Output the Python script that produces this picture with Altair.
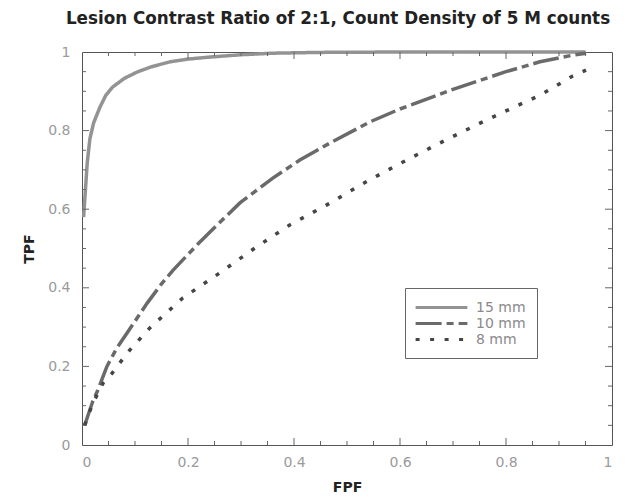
import altair as alt
import pandas as pd

# ---- data ----
fpf_15 = [0.003, 0.006, 0.01, 0.015, 0.022, 0.034, 0.045, 0.058, 0.08, 0.104, 0.13, 0.166, 0.2, 0.24, 0.3, 0.36, 0.45, 0.6, 0.8, 0.95]
tpf_15 = [0.58, 0.64, 0.72, 0.78, 0.82, 0.86, 0.89, 0.911, 0.933, 0.949, 0.962, 0.975, 0.982, 0.987, 0.993, 0.997, 0.999, 1.0, 1.0, 1.0]

fpf_10 = [0.005, 0.01, 0.02, 0.03, 0.047, 0.065, 0.085, 0.105, 0.123, 0.15, 0.172, 0.217, 0.255, 0.298, 0.36, 0.411, 0.47, 0.543, 0.6, 0.7, 0.8, 0.864, 0.926, 0.951]
tpf_10 = [0.05, 0.07, 0.11, 0.14, 0.2, 0.245, 0.285, 0.325, 0.361, 0.41, 0.445, 0.509, 0.56, 0.616, 0.679, 0.725, 0.77, 0.822, 0.855, 0.905, 0.95, 0.975, 0.992, 0.997]

fpf_8 = [0.005, 0.02, 0.04, 0.057, 0.087, 0.128, 0.19, 0.26, 0.326, 0.392, 0.462, 0.53, 0.594, 0.67, 0.751, 0.8, 0.864, 0.926, 0.951]
tpf_8 = [0.05, 0.105, 0.158, 0.183, 0.237, 0.298, 0.374, 0.438, 0.501, 0.56, 0.611, 0.665, 0.712, 0.765, 0.819, 0.85, 0.89, 0.939, 0.954]

series_names = ["15 mm", "10 mm", "8 mm"]
axis_labels = [0, 0.2, 0.4, 0.6, 0.8, 1]
minor_ticks = [0.05, 0.1, 0.15, 0.25, 0.3, 0.35, 0.45, 0.5, 0.55, 0.65, 0.7, 0.75, 0.85, 0.9, 0.95]
major_ticks = [0.2, 0.4, 0.6, 0.8]

rows = []
for name, xs, ys in zip(series_names, [fpf_15, fpf_10, fpf_8], [tpf_15, tpf_10, tpf_8]):
    for i, (a, b) in enumerate(zip(xs, ys)):
        rows.append({"size": name, "FPF": a, "TPF": b, "order": i})
df = pd.DataFrame(rows)

W, H = 530, 393
FONT = "DejaVu Sans"
xscale = alt.Scale(domain=[0, 1], nice=False, zero=False)
yscale = alt.Scale(domain=[0, 1], nice=False, zero=False)

xaxis = alt.Axis(values=axis_labels, format=".1~f", ticks=False, domain=False, grid=False,
                 labelFontSize=14, labelColor="#9a9a9a", labelFont=FONT, labelPadding=10,
                 title="FPF", titleFontSize=14, titleFontWeight="bold", titleFont=FONT,
                 titleColor="#222222", titlePadding=11)
yaxis = alt.Axis(values=axis_labels, format=".1~f", ticks=False, domain=False, grid=False,
                 labelFontSize=14, labelColor="#9a9a9a", labelFont=FONT, labelPadding=12,
                 title="TPF", titleFontSize=14, titleFontWeight="bold", titleFont=FONT,
                 titleColor="#222222", titlePadding=11)

curves = alt.Chart(df).mark_line(strokeWidth=3.5, strokeCap="butt").encode(
    x=alt.X("FPF:Q", scale=xscale, axis=xaxis),
    y=alt.Y("TPF:Q", scale=yscale, axis=yaxis),
    color=alt.Color("size:N",
                    scale=alt.Scale(domain=series_names, range=["#939393", "#6a6a6a", "#454545"]),
                    legend=alt.Legend(title=None)),
    strokeDash=alt.StrokeDash("size:N",
                              scale=alt.Scale(domain=series_names, range=[[1, 0], [26, 5, 7, 5], [4, 10.5]]),
                              legend=alt.Legend(title=None)),
    order="order:Q",
)

tick_df_minor = pd.DataFrame({"v": minor_ticks})
tick_df_major = pd.DataFrame({"v": major_ticks})


def tick_layers(tdf, length):
    c = "#666666"
    bottom = alt.Chart(tdf).mark_rule(color=c, strokeWidth=1).encode(
        x=alt.X("v:Q", scale=xscale, axis=xaxis), y=alt.value(H), y2=alt.value(H - length))
    top = alt.Chart(tdf).mark_rule(color=c, strokeWidth=1).encode(
        x=alt.X("v:Q", scale=xscale, axis=xaxis), y=alt.value(0), y2=alt.value(length))
    left = alt.Chart(tdf).mark_rule(color=c, strokeWidth=1).encode(
        y=alt.Y("v:Q", scale=yscale, axis=yaxis), x=alt.value(0), x2=alt.value(length))
    right = alt.Chart(tdf).mark_rule(color=c, strokeWidth=1).encode(
        y=alt.Y("v:Q", scale=yscale, axis=yaxis), x=alt.value(W), x2=alt.value(W - length))
    return [bottom, top, left, right]


layers = [curves] + tick_layers(tick_df_minor, 4) + tick_layers(tick_df_major, 7)

chart = alt.layer(*layers).properties(
    width=W, height=H,
    title=alt.TitleParams("Lesion Contrast Ratio of 2:1, Count Density of 5 M counts",
                          fontSize=16.8, fontWeight="bold", font=FONT, color="#222222",
                          anchor="middle", offset=17, dx=-9),
    autosize=alt.AutoSizeParams(type="none"),
    padding={"left": 74, "top": 44, "right": 8, "bottom": 50},
).configure_view(
    stroke="#555555", strokeWidth=1
).configure_legend(
    orient="none", legendX=323, legendY=236,
    strokeColor="#666666", fillColor="white", padding=11, cornerRadius=0,
    symbolType="M-3.7,0H3.7", symbolSize=196, symbolStrokeWidth=3,
    symbolOffset=17, labelOffset=26,
    labelFontSize=14, labelColor="#8a8a8a", labelFont=FONT, rowPadding=-2,
)

chart.save("out.html", embed_options={"renderer": "svg", "actions": False})
